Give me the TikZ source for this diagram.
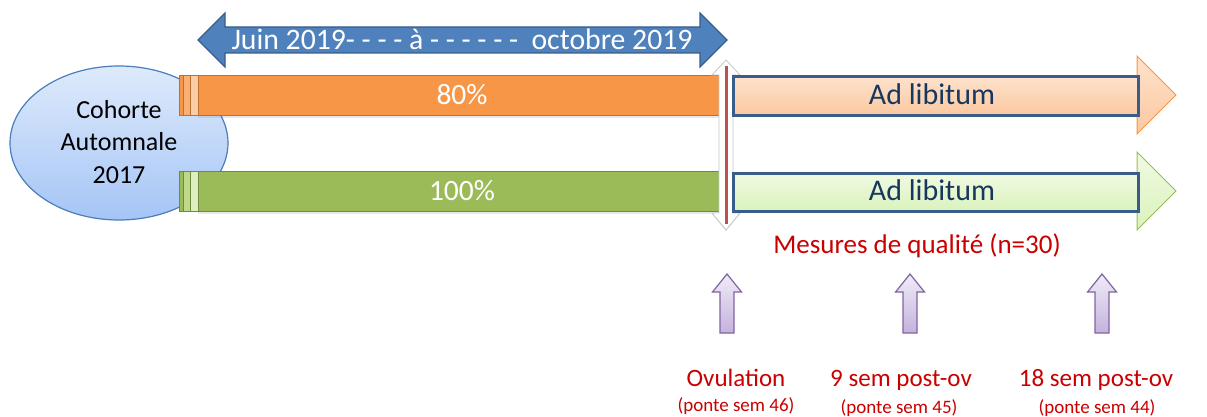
\documentclass[tikz,border=0pt]{standalone}
\usepackage{fontspec}
\setmainfont{Carlito}
\usetikzlibrary{shapes.geometric,shadows}
\definecolor{ellblue}{RGB}{74,126,187}
\definecolor{elltop}{RGB}{222,234,251}
\definecolor{ellbot}{RGB}{165,197,246}
\definecolor{orfill}{RGB}{247,150,70}
\definecolor{ordraw}{RGB}{190,112,52}
\definecolor{orlight}{RGB}{249,176,118}
\definecolor{orpale}{RGB}{252,204,166}
\definecolor{grfill}{RGB}{155,187,89}
\definecolor{grdraw}{RGB}{113,137,63}
\definecolor{grlight}{RGB}{190,216,140}
\definecolor{grpale}{RGB}{222,238,190}
\definecolor{bluefill}{RGB}{79,129,189}
\definecolor{bluedraw}{RGB}{56,93,138}
\definecolor{peachtop}{RGB}{254,226,204}
\definecolor{peachbot}{RGB}{251,200,160}
\definecolor{limetop}{RGB}{240,250,226}
\definecolor{limebot}{RGB}{218,242,188}
\definecolor{navytxt}{RGB}{23,55,94}
\definecolor{redtxt}{RGB}{200,0,0}
\definecolor{redline}{RGB}{192,80,77}
\definecolor{purtop}{RGB}{240,236,247}
\definecolor{purbot}{RGB}{196,178,220}
\definecolor{purdraw}{RGB}{128,100,162}
\tikzset{
  barshadow/.style={drop shadow={opacity=0.18,shadow xshift=0pt,shadow yshift=-2pt}},
  orbar/.style={draw=ordraw,fill=orfill,line width=1.2pt,inner sep=0pt,anchor=north west,barshadow},
  grbar/.style={draw=grdraw,fill=grfill,line width=1.2pt,inner sep=0pt,anchor=north west,barshadow},
  orstripe/.style={draw=ordraw,line width=0.8pt,inner sep=0pt,anchor=north west,minimum height=40pt},
  grstripe/.style={draw=grdraw,line width=0.8pt,inner sep=0pt,anchor=north west,minimum height=40pt},
  peachbar/.style={draw=bluedraw,line width=2.6pt,top color=peachtop,bottom color=peachbot,inner sep=0pt,anchor=north west},
  limebar/.style={draw=bluedraw,line width=2.6pt,top color=limetop,bottom color=limebot,inner sep=0pt,anchor=north west},
  bluearrow/.style={draw=bluedraw,fill=bluefill,line width=1.2pt,line join=miter},
  whitearrow/.style={draw=black!22,fill=white,line width=0.8pt,drop shadow={opacity=0.25,shadow xshift=0pt,shadow yshift=-1pt}},
  purarrow/.style={draw=purdraw,top color=purtop,bottom color=purbot,line width=1.2pt},
  whitetxt/.style={text=white,inner sep=0pt,anchor=base},
  navy/.style={text=navytxt,inner sep=0pt,anchor=base,font=\fontsize{30}{36}\selectfont},
  redlab/.style={text=redtxt,inner sep=0pt,anchor=base},
}
\begin{document}
\begin{tikzpicture}[x=1pt,y=-1pt]
\useasboundingbox (0,0) rectangle (1207,417);

% top double arrow (period)
\draw[bluearrow] (198,40) -- (225,13) -- (225,27) -- (700,27) -- (700,13) -- (727,40)
  -- (700,67) -- (700,53) -- (225,53) -- (225,67) -- cycle;
\node[whitetxt,font=\fontsize{29.7}{35}\selectfont] (period) at (462,50)
  {Juin 2019- - - - à - - - - - - \ octobre 2019};

% cohort ellipse
\node[ellipse,draw=ellblue,line width=1.2pt,top color=elltop,bottom color=ellbot,
  minimum width=218pt,minimum height=154pt,inner sep=0pt] (cohort) at (119,143) {};
\node[font=\fontsize{26}{32.5}\selectfont,align=center,inner sep=0pt] (cohorttxt) at (119,142)
  {Cohorte\\Automnale\\2017};

% orange (80%) bar
\node[orstripe,fill=orfill,minimum width=4pt] (os1) at (179,75) {};
\node[orstripe,fill=orlight,minimum width=7pt] (os2) at (183,75) {};
\node[orstripe,fill=orpale,minimum width=7.5pt] (os3) at (190,75) {};
\node[orbar,minimum width=524.5pt,minimum height=40pt] (bar80) at (197.5,75) {};
\node[whitetxt,font=\fontsize{29.5}{35}\selectfont] (t80) at (462,105) {80\%};

% green (100%) bar
\node[grstripe,fill=grfill,minimum width=4pt] (gs1) at (179,171) {};
\node[grstripe,fill=grlight,minimum width=7pt] (gs2) at (183,171) {};
\node[grstripe,fill=grpale,minimum width=7.5pt] (gs3) at (190,171) {};
\node[grbar,minimum width=524.5pt,minimum height=40pt] (bar100) at (197.5,171) {};
\node[whitetxt,font=\fontsize{29.5}{35}\selectfont] (t100) at (462,200) {100\%};

% white double arrow with red line (ovulation)
\draw[whitearrow] (726,60) -- (740,75) -- (733,75) -- (733,213) -- (740,213) -- (726,230)
  -- (712,213) -- (719,213) -- (719,75) -- (712,75) -- cycle;
\coordinate (rtop) at (726,66);
\coordinate (rbot) at (726,224);
\draw[redline,line width=3pt] (rtop) -- (rbot);

% ad libitum arrows
\draw[draw=orfill,line width=1pt,top color=peachtop,bottom color=peachbot]
  (1137,56) -- (1176,95) -- (1137,134) -- cycle;
\node[peachbar,minimum width=405pt,minimum height=39pt] (adlib1) at (732,75) {};
\node[navy] (ta1) at (932,105) {Ad libitum};

\draw[draw=grfill,line width=1pt,top color=limetop,bottom color=limebot]
  (1137,152) -- (1176,191) -- (1137,230) -- cycle;
\node[limebar,minimum width=405pt,minimum height=38pt] (adlib2) at (732,172) {};
\node[navy] (ta2) at (932,200) {Ad libitum};

% measures label
\node[redlab,font=\fontsize{27}{32}\selectfont] (mesures) at (917,253) {Mesures de qualité (n=30)};

% purple up arrows
\foreach \px/\nm in {727/a1,910/a2,1102/a3}{
  \draw[purarrow] (\px,274) -- (\px+14.5,292) -- (\px+7,292) -- (\px+7,333)
    -- (\px-7,333) -- (\px-7,292) -- (\px-14.5,292) -- cycle;
}

% time point labels
\node[redlab,font=\fontsize{25}{30}\selectfont] (ov) at (736,386) {Ovulation};
\node[redlab,font=\fontsize{19}{23}\selectfont] (ov2) at (736,411.5) {(ponte sem 46)};
\node[redlab,font=\fontsize{25}{30}\selectfont] (s9) at (901,386) {9 sem post-ov};
\node[redlab,font=\fontsize{19}{23}\selectfont] (s92) at (899,413) {(ponte sem 45)};
\node[redlab,font=\fontsize{25}{30}\selectfont] (s18) at (1096,386) {18 sem post-ov};
\node[redlab,font=\fontsize{19}{23}\selectfont] (s182) at (1097,413) {(ponte sem 44)};
\end{tikzpicture}
\end{document}
